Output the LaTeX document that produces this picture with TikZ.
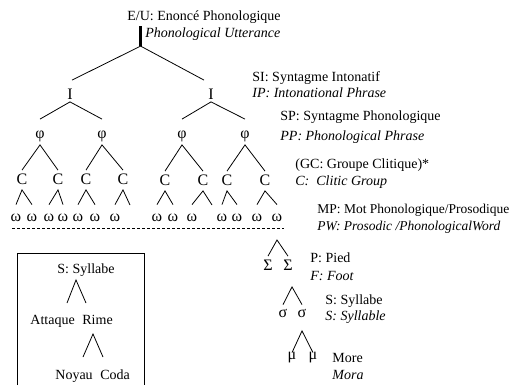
\documentclass[tikz,border=0pt]{standalone}
\usepackage{fontspec}
\setmainfont{Liberation Serif}
\usetikzlibrary{positioning}

\tikzstyle{lbl}=[anchor=base west,inner sep=0pt,font=\fontsize{14pt}{17pt}\selectfont]
\tikzstyle{trans}=[lbl,font=\fontsize{14pt}{17pt}\selectfont\itshape]
\tikzstyle{sym}=[inner sep=0pt,text height=9pt,text depth=2pt,font=\fontsize{16pt}{18pt}\selectfont]

\begin{document}
\begin{tikzpicture}[x=1pt,y=-1pt,line width=0.8pt]
	\useasboundingbox (0,0) rectangle (513,385);
	% names of the levels
	\node[lbl] (eu) at (127,20.5){E/U:};
	\node[lbl] (eu_fr) at (157,20.5){Enoncé Phonologique};
	\node[trans,below=17pt of eu.base west,anchor=base west,xshift=18pt] (eu_en){Phonological Utterance};
	\node[lbl] (si) at (252,81.5){SI: Syntagme Intonatif};
	\node[trans,below=16pt of si.base west,anchor=base west] (ip){IP: Intonational Phrase};
	\node[lbl] (sp) at (280,120){SP: Syntagme Phonologique};
	\node[trans,below=20.5pt of sp.base west,anchor=base west] (pp){PP: Phonological Phrase};
	\node[lbl] (gc) at (295,168.3){(GC: Groupe Clitique)*};
	\node[trans,below=17.4pt of gc.base west,anchor=base west] (cg){C:\hspace{7pt}Clitic Group};
	\node[lbl,font=\fontsize{13.5pt}{17pt}\selectfont] (mp) at (317,213.3){MP: Mot Phonologique/Prosodique};
	\node[trans,font=\fontsize{13.5pt}{17pt}\selectfont\itshape,below=17.4pt of mp.base west,anchor=base west] (pw){PW: Prosodic /PhonologicalWord};
	\node[lbl] (pied) at (310,262.7){P: Pied};
	\node[trans,below=17.3pt of pied.base west,anchor=base west] (foot){F: Foot};
	\node[lbl] (syl) at (325,304){S: Syllabe};
	\node[trans,below=16pt of syl.base west,anchor=base west] (syl_en){S: Syllable};
	\node[lbl] (more) at (332,362.7){More};
	\node[trans,below=16.6pt of more.base west,anchor=base west] (mora){Mora};

	% utterance and intonational phrases
	\coordinate (root) at ([yshift=-25pt]eu.south);
	\draw[line width=2.4pt] ([yshift=-5pt]eu.south)--(root);
	\node[sym] (i1) at (70,96){I};
	\node[sym] (i2) at (211,96){I};
	\draw ([xshift=2pt,yshift=10pt]i1.north)--(root)--([xshift=-7pt,yshift=10pt]i2.north);

	% phonological phrases
	\node[sym] (p1) at (40,135){φ};
	\node[sym] (p2) at (102,135){φ};
	\node[sym] (p3) at (182,135){φ};
	\node[sym] (p4) at (245,135){φ};
	\draw ([yshift=10pt]p1.north)--(i1.south)--([yshift=10pt]p2.north);
	\draw ([yshift=10pt]p3.north)--(i2.south)--([yshift=10pt]p4.north);

	% clitic groups
	\node[sym] (c1) at (22,181){C};
	\node[sym] (c2) at (58,181){C};
	\node[sym] (c3) at (86,181){C};
	\node[sym] (c4) at (123,181){C};
	\node[sym] (c5) at (165,182){C};
	\node[sym] (c6) at (203,182){C};
	\node[sym] (c7) at (227,182){C};
	\node[sym] (c8) at (265,182){C};
	\draw ([yshift=5pt]c1.north)--([yshift=-4pt]p1.south)--([yshift=5pt]c2.north);
	\draw ([yshift=5pt]c3.north)--([yshift=-4pt]p2.south)--([yshift=5pt]c4.north);
	\draw ([yshift=5pt]c5.north)--([yshift=-4pt]p3.south)--([yshift=5pt]c6.north);
	\draw ([yshift=5pt]c7.north)--([yshift=-4pt]p4.south)--([yshift=5pt]c8.north);

	% prosodic words
	\node[sym] (w1) at (16,218){ω};
	\node[sym] (w2) at (32,218){ω};
	\node[sym] (w3) at (49,218){ω};
	\node[sym] (w4) at (63,218){ω};
	\node[sym] (w5) at (78,218){ω};
	\node[sym] (w6) at (95,218){ω};
	\node[sym] (w7) at (115,218){ω};
	\node[sym] (w8) at (157,218){ω};
	\node[sym] (w9) at (173,218){ω};
	\node[sym] (w10) at (192,218){ω};
	\node[sym] (w11) at (222,218){ω};
	\node[sym] (w12) at (237,218){ω};
	\node[sym] (w13) at (257,218){ω};
	\node[sym] (w14) at (277,218){ω};
	\coordinate (c4r) at (130,205);
	\coordinate (c6r) at (212,205);
	\draw ([yshift=7.5pt]w1.north)--([yshift=-3pt]c1.south)--([yshift=7.5pt]w2.north);
	\draw ([yshift=7.5pt]w3.north)--([yshift=-3pt]c2.south)--([yshift=7.5pt]w4.north);
	\draw ([yshift=7.5pt]w5.north)--([yshift=-3pt]c3.south)--([yshift=7.5pt]w6.north);
	\draw ([yshift=7.5pt]w7.north)--([yshift=-3pt]c4.south)--(c4r);
	\draw ([yshift=7.5pt]w8.north)--([yshift=-3pt]c5.south)--([yshift=7.5pt]w9.north);
	\draw ([yshift=7.5pt]w10.north)--([yshift=-3pt]c6.south)--(c6r);
	\draw ([yshift=7.5pt]w11.north)--([yshift=-3pt]c7.south)--([yshift=7.5pt]w12.north);
	\draw ([yshift=7.5pt]w13.north)--([yshift=-3pt]c8.south)--([yshift=7.5pt]w14.north);

	\coordinate (dl) at (12,228);
	\coordinate (dr) at (284,228);
	\draw[dash pattern=on 3pt off 2pt] (dl)--(dr);

	% feet, syllables, morae
	\coordinate (ft) at (277,240);
	\node[sym] (f1) at (268,267){Σ};
	\node[sym] (f2) at (288,267){Σ};
	\draw ([yshift=5pt]f1.north)--(ft)--([yshift=5pt]f2.north);
	\node[sym] (s1) at (283,314){σ};
	\node[sym] (s2) at (302,314){σ};
	\draw ([yshift=3.5pt]s1.north)--([xshift=4pt,yshift=-14pt]f2.south)--([yshift=3.5pt]s2.north);
	\node[sym] (m1) at (292,356){μ};
	\node[sym] (m2) at (313,356){μ};
	\draw ([yshift=-2.5pt]m1.north)--([yshift=-11pt]s2.south)--([yshift=-2.5pt]m2.north);

	% syllable structure
	\draw (17,385)--(17,253)--(144,253)--(144,385);
	\node[lbl] (bsyl) at (57,273){S: Syllabe};
	\node[lbl] (att) at (30,324){Attaque};
	\node[lbl] (rime) at (82,324){Rime};
	\node[lbl] (noy) at (55,379.3){Noyau};
	\node[lbl] (coda) at (100,379.3){Coda};
	\coordinate (b0) at (76,280);
	\coordinate (b1) at (67,303);
	\coordinate (b2) at (86,303);
	\draw (b1)--(b0)--(b2);
	\coordinate (r0) at (93,334);
	\coordinate (r1) at (83,357);
	\coordinate (r2) at (103,357);
	\draw (r1)--(r0)--(r2);
	% \draw[dashed] (att)--(rime);
\end{tikzpicture}
\end{document}
